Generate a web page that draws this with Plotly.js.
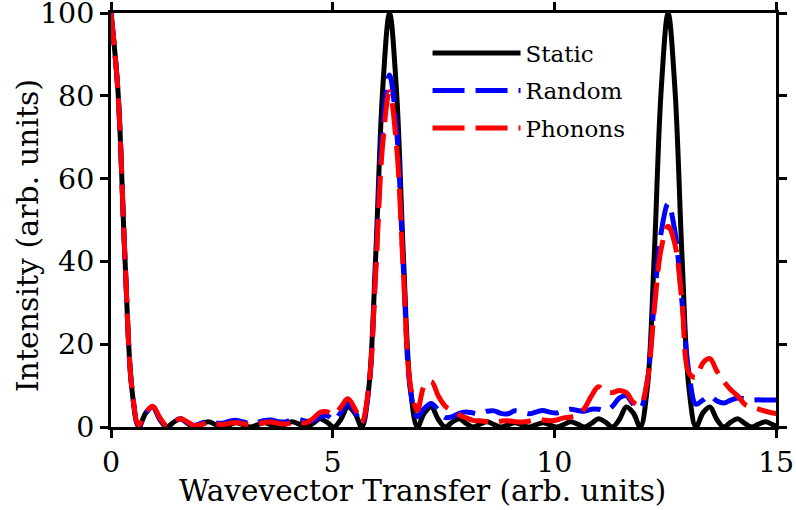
<!DOCTYPE html>
<html>
<head>
<meta charset="utf-8">
<script src="https://cdn.plot.ly/plotly-3.0.1.min.js"></script>
<style>html,body{margin:0;padding:0;background:#fff;}#chart{width:796px;height:510px;}</style>
</head>
<body>
<div id="chart"></div>
<script>
// Wavevector transfer samples (arb. units)
const q = [0,0.157,0.314,0.471,0.628,0.785,0.942,1.100,1.257,1.414,1.571,1.728,1.885,2.042,2.199,2.356,2.513,2.670,2.827,2.985,
3.142,3.299,3.456,3.613,3.770,3.927,4.084,4.241,4.398,4.555,4.712,4.869,5.027,5.184,5.341,5.498,5.655,5.812,5.969,6.126,
6.283,6.440,6.597,6.754,6.912,7.069,7.226,7.383,7.540,7.697,7.854,8.011,8.168,8.325,8.482,8.639,8.796,8.954,9.111,9.268,
9.425,9.582,9.739,9.896,10.053,10.210,10.367,10.524,10.681,10.838,10.996,11.153,11.310,11.467,11.624,11.781,11.938,12.095,12.252,12.409,
12.566,12.723,12.881,13.038,13.195,13.352,13.509,13.666,13.823,13.980,14.137,14.294,14.451,14.608,14.765,14.923,15.080];

const staticI = [100,81.2,40.9,9.17,0,3.41,4.85,1.83,0,1.19,2,0.87,0,0.69,1.26,0.59,0,0.53,1.03,0.5,
0,0.5,1.03,0.53,0,0.59,1.26,0.69,0,0.87,2,1.19,0,1.83,4.85,3.41,0,9.17,40.9,81.2,
100,81.2,40.9,9.17,0,3.41,4.85,1.83,0,1.19,2,0.87,0,0.69,1.26,0.59,0,0.53,1.03,0.5,
0,0.5,1.03,0.53,0,0.59,1.26,0.69,0,0.87,2,1.19,0,1.83,4.85,3.41,0,9.17,40.9,81.2,
100,81.2,40.9,9.17,0,3.41,4.85,1.83,0,1.19,2,0.87,0,0.69,1.26,0.59,0];

const randomI = [100,81,41,9.5,0.3,3.4,4.8,2,0.3,1.3,2,1,0.4,0.9,1.4,1,0.9,1.4,1.6,1.2,
0.8,1.1,1.6,1.7,1.3,1.2,1.7,1.8,1.4,1.5,2.4,2.8,1.6,3.5,5.6,3.8,0.8,9,38,72,
85,72,38,9,2.5,4.5,5.7,4,2.3,2.5,3.3,3.6,3.4,3.2,3.8,3.9,3.3,3.2,3.9,3.6,
3.2,3.6,4,3.6,3.4,3.9,4.3,4,3.8,4.3,4.3,4,5,7,7.6,5.5,4.5,11,30,47,
54,47,30,13,5.5,6.5,7.5,6.3,5.8,6.5,7,6.8,6.5,6.6,6.5,6.5,6.5];

const phononI = [100,81,41,9.5,0.5,3.5,5,2.3,0.3,1.2,2,1.2,0.3,0.6,1.1,0.8,0.6,0.9,1.1,0.8,
0.5,0.7,1.1,1.2,0.9,0.7,1,1.2,1,2,3.5,3.7,3,4.8,6.8,4.5,1.2,9.5,37,68,
81,68,37,10,4,10,11,7.5,5,3.9,2.9,2.2,1.6,1.5,1.3,1.2,1.4,1.5,1.3,1.2,
1.4,1.8,1.7,1.5,1.7,2.2,2.4,2.8,4.5,7.5,9.7,8.4,8.3,8.8,8.3,6,5.3,11,28,43,
48.5,44,30,13,12,15.5,16.5,13.5,11,9,7.5,5.5,4.8,4.3,3.8,3.4,3.2];

const seriesNames = ['Static','Random','Phonons'];
const xTicks = [0,5,10,15];
const yTicks = [0,20,40,60,80,100];
const xTitle = 'Wavevector Transfer (arb. units)';
const yTitle = 'Intensity (arb. units)';

const FONT = 'DejaVu Serif';
const traces = [
  {x:q, y:staticI, name:seriesNames[0], legendgroup:'g1', type:'scatter', mode:'lines',
   line:{color:'#000000', width:5, shape:'spline'}},
  {x:q, y:randomI, name:seriesNames[1], legendgroup:'g2', type:'scatter', mode:'lines',
   line:{color:'#0000ff', width:5, shape:'spline', dash:'32px,11px'}},
  {x:q, y:phononI, name:seriesNames[2], legendgroup:'g3', type:'scatter', mode:'lines',
   line:{color:'#ff0000', width:5, shape:'spline', dash:'32px,11px'}}
];

const axisCommon = {
  showgrid:false, zeroline:false, showline:true, linecolor:'#000', linewidth:3,
  mirror:'allticks', ticks:'outside', ticklen:8, tickwidth:3, tickcolor:'#000',
  ticklabeloverflow:'allow',
  tickfont:{family:FONT, size:28.5, color:'#000'}
};

const layout = {
  width:796, height:510,
  margin:{l:111, r:20, t:13, b:83},
  paper_bgcolor:'#fff', plot_bgcolor:'#fff',
  font:{family:FONT, color:'#000'},
  showlegend:true,
  legend:{x:0.476, y:0.955, xanchor:'left', yanchor:'top', bgcolor:'rgba(0,0,0,0)',
    font:{family:FONT, size:23, color:'#000'}, itemwidth:88, traceorder:'grouped', tracegroupgap:4.5},
  xaxis:Object.assign({}, axisCommon, {range:[0,15], tickvals:xTicks, ticktext:xTicks.map(String)}),
  yaxis:Object.assign({}, axisCommon, {range:[0,100], tickvals:yTicks, ticktext:yTicks.map(String)}),
  annotations:[
    {text:xTitle, xref:'paper', yref:'paper', x:0.4677, y:-0.155, xanchor:'center', yanchor:'middle',
     showarrow:false, font:{family:FONT, size:29.5, color:'#000'}},
    {text:yTitle, xref:'paper', yref:'paper', x:-0.1255, y:0.462, xanchor:'center', yanchor:'middle',
     textangle:-90, showarrow:false, font:{family:FONT, size:30, color:'#000'}}
  ]
};

Plotly.newPlot('chart', traces, layout, {staticPlot:true, displayModeBar:false});
</script>
</body>
</html>
